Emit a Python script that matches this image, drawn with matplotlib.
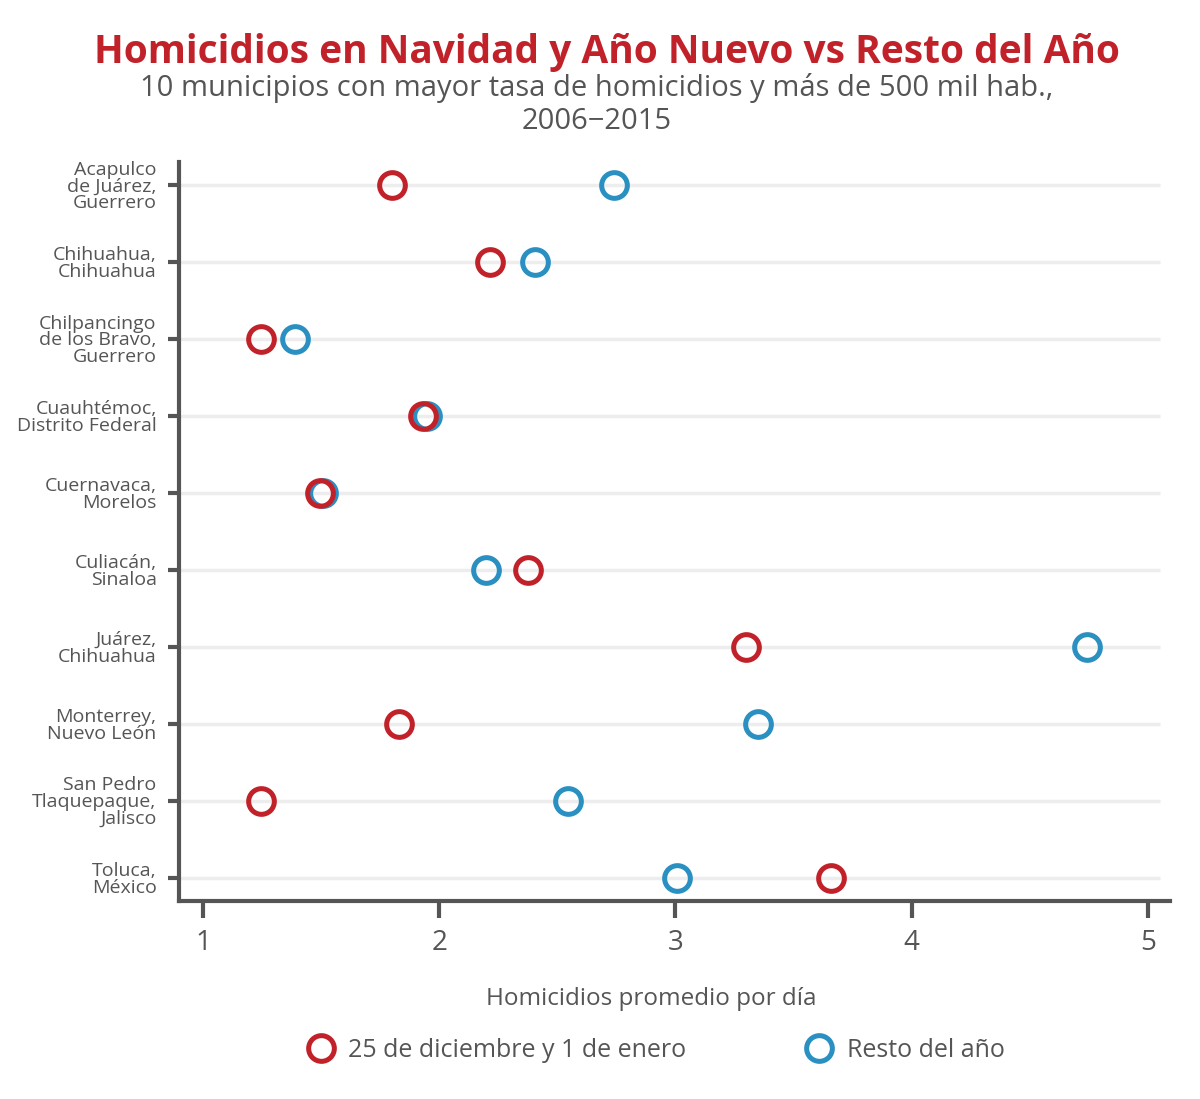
import matplotlib
matplotlib.use("Agg")
import matplotlib.pyplot as plt
from matplotlib.lines import Line2D

plt.rcParams['font.family'] = ['Open Sans', 'DejaVu Sans']

# datos
municipios = [
    "Acapulco\nde Juárez,\nGuerrero",
    "Chihuahua,\nChihuahua",
    "Chilpancingo\nde los Bravo,\nGuerrero",
    "Cuauhtémoc,\nDistrito Federal",
    "Cuernavaca,\nMorelos",
    "Culiacán,\nSinaloa",
    "Juárez,\nChihuahua",
    "Monterrey,\nNuevo León",
    "San Pedro\nTlaquepaque,\nJalisco",
    "Toluca,\nMéxico",
]
navidad = [1.80, 2.215, 1.245, 1.93, 1.495, 2.375, 3.30, 1.83, 1.245, 3.66]
resto = [2.74, 2.405, 1.39, 1.95, 1.51, 2.20, 4.74, 3.35, 2.545, 3.005]
xticks = [1, 2, 3, 4, 5]

ROJO = '#c1222a'
AZUL = '#2a8fc1'
GRIS = '#555555'
MS, MEW = 18.5, 3.6

fig = plt.figure(figsize=(12, 10.99), dpi=100)
ax = fig.add_axes([0.149, 0.1802, 0.826, 0.6724])

ypos = list(range(len(municipios)))
ax.plot(resto, ypos, ls='none', marker='o', ms=MS, mfc='none', mec=AZUL, mew=MEW, zorder=3)
ax.plot(navidad, ypos, ls='none', marker='o', ms=MS, mfc='none', mec=ROJO, mew=MEW, zorder=4)

ax.set_xlim(0.898, 5.093)
ax.set_ylim(len(municipios) - 1 + 0.3, -0.3)
ax.set_yticks(ypos)
ax.set_yticklabels(municipios, fontsize=14, color=GRIS, linespacing=0.92)
ax.set_xticks(xticks)
ax.set_xticklabels([str(t) for t in xticks], fontsize=20, color=GRIS)

# lineas guia
ax.hlines(ypos, 0.898, 5.05, color='#ededed', lw=2.5, zorder=1)

for s in ['top', 'right']:
    ax.spines[s].set_visible(False)
for s in ['left', 'bottom']:
    ax.spines[s].set_color(GRIS)
    ax.spines[s].set_linewidth(3)
ax.tick_params(axis='y', length=8, width=3, color=GRIS, pad=8)
ax.tick_params(axis='x', length=12, width=3, color=GRIS, pad=8)

ax.set_xlabel('Homicidios promedio por día', fontsize=17.5, color=GRIS)
ax.xaxis.set_label_coords(0.477, -0.116)

# titulo
fig.text(0.506, 0.952, 'Homicidios en Navidad y Año Nuevo vs Resto del Año',
         ha='center', va='center', fontsize=28, fontweight='bold', color=ROJO)
fig.text(0.497, 0.905, '10 municipios con mayor tasa de homicidios y más de 500 mil hab.,\n2006\u22122015',
         ha='center', va='center', fontsize=21, color=GRIS, linespacing=1.2)

# leyenda
handles = [
    Line2D([], [], ls='none', marker='o', ms=MS, mfc='none', mec=ROJO, mew=MEW),
    Line2D([], [], ls='none', marker='o', ms=MS, mfc='none', mec=AZUL, mew=MEW),
]
leg = fig.legend(handles, ['25 de diciembre y 1 de enero', 'Resto del año'],
                 loc='center', bbox_to_anchor=(0.546, 0.044), ncol=2, frameon=False,
                 fontsize=18, columnspacing=4.7, handletextpad=0.5, handlelength=1.2)
for t in leg.get_texts():
    t.set_color(GRIS)

fig.savefig('out.png', dpi=100, facecolor='white')
